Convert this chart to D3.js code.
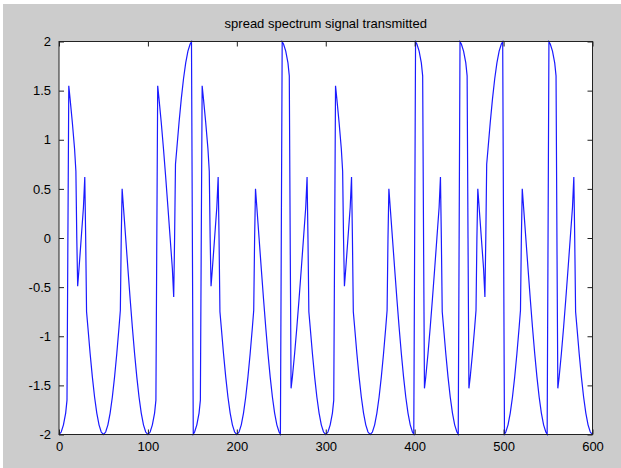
<!DOCTYPE html>
<html>
<head>
<meta charset="utf-8">
<script src="https://cdn.jsdelivr.net/npm/d3@7"></script>
<style>
  html, body { margin: 0; padding: 0; background: #fff; }
  svg { display: block; }
  .tick text { font-family: "Liberation Sans", Arial, sans-serif; font-size: 13px; fill: #000; }
</style>
</head>
<body>
<div id="chart"></div>
<script>
// tick values / labels
const xTicks = [0, 100, 200, 300, 400, 500, 600];
const yTicks = [-2, -1.5, -1, -0.5, 0, 0.5, 1, 1.5, 2];
const yTickLabels = ["-2", "-1.5", "-1", "-0.5", "0", "0.5", "1", "1.5", "2"];
const title = "spread spectrum signal transmitted";

// signal vertices (sample index, amplitude)
const sigX = [
  0,2.5,5,7.5,9,10,11,12.5,15,17.5,19,20,21,22.5,25,27.5,29,30,31,32.5,35,37.5,40,42.5,45,47.5,
  50,52.5,55,57.5,60,62.5,65,67.5,69,70,71,72.5,75,77.5,80,82.5,85,87.5,90,92.5,95,97.5,
  100,102.5,105,107.5,109,110,111,112.5,115,117.5,120,122.5,125,127.5,129,130,131,132.5,135,137.5,140,142.5,145,147.5,149,150,
  151,152.5,155,157.5,159,160,161,162.5,165,167.5,169,170,171,172.5,175,177.5,179,180,181,182.5,185,187.5,190,192.5,195,197.5,
  200,202.5,205,207.5,210,212.5,215,217.5,219,220,221,222.5,225,227.5,230,232.5,235,237.5,240,242.5,245,247.5,249,250,
  251,252.5,255,257.5,259,260,261,262.5,265,267.5,270,272.5,275,277.5,279,280,281,282.5,285,287.5,290,292.5,295,297.5,
  300,302.5,305,307.5,309,310,311,312.5,315,317.5,319,320,321,322.5,325,327.5,329,330,331,332.5,335,337.5,340,342.5,345,347.5,
  350,352.5,355,357.5,360,362.5,365,367.5,369,370,371,372.5,375,377.5,380,382.5,385,387.5,390,392.5,395,397.5,399,400,
  401,402.5,405,407.5,409,410,411,412.5,415,417.5,420,422.5,425,427.5,429,430,431,432.5,435,437.5,440,442.5,445,447.5,449,450,
  451,452.5,455,457.5,459,460,461,462.5,465,467.5,469,470,471,472.5,475,477.5,479,480,481,482.5,485,487.5,490,492.5,495,497.5,499,500,
  501,502.5,505,507.5,510,512.5,515,517.5,519,520,521,522.5,525,527.5,530,532.5,535,537.5,540,542.5,545,547.5,549,550,
  551,552.5,555,557.5,559,560,561,562.5,565,567.5,570,572.5,575,577.5,579,580,581,582.5,585,587.5,590,592.5,595,597.5,600
];
const sigY = [
  -2,-1.975,-1.902,-1.782,-1.65,0,1.55,1.414,1.176,0.908,0.68,0,-0.49,-0.313,0,0.313,0.62,0,-0.75,-0.908,-1.176,-1.414,-1.618,-1.782,-1.902,-1.975,
  -2,-1.975,-1.902,-1.782,-1.618,-1.414,-1.176,-0.908,-0.736,0,0.5,0.313,0,-0.313,-0.618,-0.908,-1.176,-1.414,-1.618,-1.782,-1.902,-1.975,
  -2,-1.975,-1.902,-1.782,-1.65,0,1.55,1.414,1.176,0.908,0.618,0.313,0,-0.313,-0.6,0,0.75,0.908,1.176,1.414,1.618,1.782,1.902,1.975,1.996,0,
  -1.996,-1.975,-1.902,-1.782,-1.65,0,1.55,1.414,1.176,0.908,0.68,0,-0.49,-0.313,0,0.313,0.62,0,-0.75,-0.908,-1.176,-1.414,-1.618,-1.782,-1.902,-1.975,
  -2,-1.975,-1.902,-1.782,-1.618,-1.414,-1.176,-0.908,-0.736,0,0.5,0.313,0,-0.313,-0.618,-0.908,-1.176,-1.414,-1.618,-1.782,-1.902,-1.975,-1.996,0,
  1.996,1.975,1.902,1.782,1.65,0,-1.53,-1.414,-1.176,-0.908,-0.618,-0.313,0,0.313,0.62,0,-0.75,-0.908,-1.176,-1.414,-1.618,-1.782,-1.902,-1.975,
  -2,-1.975,-1.902,-1.782,-1.65,0,1.55,1.414,1.176,0.908,0.68,0,-0.49,-0.313,0,0.313,0.62,0,-0.75,-0.908,-1.176,-1.414,-1.618,-1.782,-1.902,-1.975,
  -2,-1.975,-1.902,-1.782,-1.618,-1.414,-1.176,-0.908,-0.736,0,0.5,0.313,0,-0.313,-0.618,-0.908,-1.176,-1.414,-1.618,-1.782,-1.902,-1.975,-1.996,0,
  1.996,1.975,1.902,1.782,1.65,0,-1.53,-1.414,-1.176,-0.908,-0.618,-0.313,0,0.313,0.62,0,-0.75,-0.908,-1.176,-1.414,-1.618,-1.782,-1.902,-1.975,-1.996,0,
  1.996,1.975,1.902,1.782,1.65,0,-1.53,-1.414,-1.176,-0.908,-0.736,0,0.5,0.313,0,-0.313,-0.6,0,0.75,0.908,1.176,1.414,1.618,1.782,1.902,1.975,1.996,0,
  -1.996,-1.975,-1.902,-1.782,-1.618,-1.414,-1.176,-0.908,-0.736,0,0.5,0.313,0,-0.313,-0.618,-0.908,-1.176,-1.414,-1.618,-1.782,-1.902,-1.975,-1.996,0,
  1.996,1.975,1.902,1.782,1.65,0,-1.53,-1.414,-1.176,-0.908,-0.618,-0.313,0,0.313,0.62,0,-0.75,-0.908,-1.176,-1.414,-1.618,-1.782,-1.902,-1.975,-2
];

const width = 621,
    height = 468,
    padL = 59, padR = 592.5, padT = 41.5, padB = 434.5;

const svg = d3.select("#chart").append("svg")
    .attr("width", width)
    .attr("height", height);

// figure background (thin white edge on top/left like the screenshot)
svg.append("rect").attr("width", width).attr("height", height).attr("fill", "#fff");
svg.append("rect").attr("x", 3).attr("y", 4).attr("width", width - 3).attr("height", height - 4).attr("fill", "#cccccc");

const x = d3.scaleLinear().domain([0, 600]).range([padL, padR]);
const y = d3.scaleLinear().domain([-2, 2]).range([padB, padT]);

svg.append("rect")
    .attr("x", padL).attr("y", padT)
    .attr("width", padR - padL).attr("height", padB - padT)
    .attr("fill", "#fff");

// signal
const pts = sigX.map((d, i) => [d, sigY[i]]);
const line = d3.line().x(d => x(d[0])).y(d => y(d[1]));
svg.append("path")
    .datum(pts)
    .attr("d", line)
    .attr("fill", "none")
    .attr("stroke", "#1a1aff")
    .attr("stroke-width", 1.2);

// axes, ticks pointing inward as in matlab
svg.append("g")
    .attr("transform", "translate(0," + padB + ")")
    .call(d3.axisBottom(x).tickValues(xTicks).tickSizeInner(-5).tickSizeOuter(0).tickPadding(7).tickFormat(d3.format("d")));
svg.append("g")
    .attr("transform", "translate(0," + padT + ")")
    .call(d3.axisTop(x).tickValues(xTicks).tickSizeInner(-5).tickSizeOuter(0).tickFormat(""));
svg.append("g")
    .attr("transform", "translate(" + padL + ",0)")
    .call(d3.axisLeft(y).tickValues(yTicks).tickSizeInner(-5).tickSizeOuter(0).tickPadding(8)
        .tickFormat((d, i) => yTickLabels[i]));
svg.append("g")
    .attr("transform", "translate(" + padR + ",0)")
    .call(d3.axisRight(y).tickValues(yTicks).tickSizeInner(-5).tickSizeOuter(0).tickFormat(""));

svg.selectAll(".domain").remove();
svg.selectAll(".tick line").attr("stroke", "#222");

svg.append("rect")
    .attr("x", padL).attr("y", padT)
    .attr("width", padR - padL).attr("height", padB - padT)
    .attr("fill", "none")
    .attr("stroke", "#222")
    .attr("stroke-width", 1);

svg.append("text")
    .attr("x", (padL + padR) / 2)
    .attr("y", 28)
    .attr("text-anchor", "middle")
    .style("font-family", "'Liberation Sans', Arial, sans-serif")
    .style("font-size", "13px")
    .style("fill", "#000")
    .text(title);
</script>
</body>
</html>
